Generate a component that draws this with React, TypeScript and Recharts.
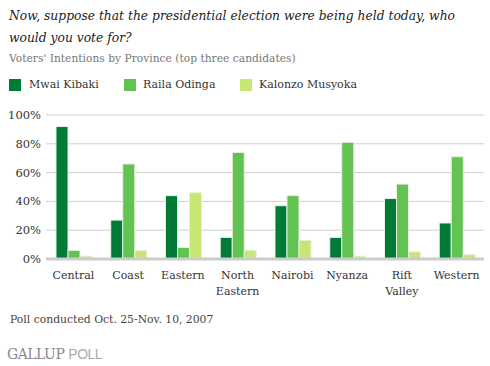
import { BarChart, Bar, XAxis, YAxis, CartesianGrid } from 'recharts';

const provinces = ['Central', 'Coast', 'Eastern', 'North Eastern', 'Nairobi', 'Nyanza', 'Rift Valley', 'Western'];
const kibaki = [92, 27, 44, 15, 37, 15, 42, 25];
const odinga = [6, 66, 8, 74, 44, 81, 52, 71];
const musyoka = [2, 6, 46, 6, 13, 2, 5, 3];
const yTicks = [0, 20, 40, 60, 80, 100];

const series = [
  { key: 'kibaki', name: 'Mwai Kibaki', color: '#007a37', x: 9, textX: 29 },
  { key: 'odinga', name: 'Raila Odinga', color: '#62c252', x: 124, textX: 143 },
  { key: 'musyoka', name: 'Kalonzo Musyoka', color: '#c7e673', x: 240, textX: 259 },
];

const chartData = provinces.map((p, i) => ({
  province: p,
  kibaki: kibaki[i],
  odinga: odinga[i],
  musyoka: musyoka[i],
}));

const serif = '"DejaVu Serif", Georgia, serif';

// x tick: split two-word names onto two lines
const ProvinceTick = (props: any) => {
  const { x, y, payload } = props;
  const words: string[] = String(payload.value).split(' ');
  return (
    <text x={x} y={y} textAnchor="middle" fill="#333" fontSize={11} fontFamily={serif}>
      {words.map((w, i) => (
        <tspan key={i} x={x} dy={i === 0 ? 12 : 16}>
          {w}
        </tspan>
      ))}
    </text>
  );
};

export default function App() {
  return (
    <div
      style={{
        position: 'absolute',
        left: 0,
        top: 0,
        width: 490,
        height: 366,
        background: '#fff',
        fontFamily: serif,
        overflow: 'hidden',
      }}
    >
      <div
        style={{
          position: 'absolute',
          left: 9,
          top: 5,
          fontSize: 12.3,
          fontStyle: 'italic',
          lineHeight: '22px',
          color: '#222',
          whiteSpace: 'nowrap',
        }}
      >
        Now, suppose that the presidential election were being held today, who
        <br />
        would you vote for?
      </div>
      <div style={{ position: 'absolute', left: 9, top: 52, fontSize: 10.7, color: '#777', whiteSpace: 'nowrap' }}>
        Voters' Intentions by Province (top three candidates)
      </div>
      {series.map((s) => (
        <div key={s.key}>
          <div
            style={{
              position: 'absolute',
              left: s.x,
              top: 79,
              width: 12,
              height: 12,
              background: s.color,
            }}
          />
          <div
            style={{ position: 'absolute', left: s.textX, top: 78, fontSize: 11, color: '#333', whiteSpace: 'nowrap' }}
          >
            {s.name}
          </div>
        </div>
      ))}

      <div style={{ position: 'absolute', left: 0, top: 0 }}>
        <BarChart
          width={490}
          height={300}
          data={chartData}
          margin={{ top: 115, right: 6, bottom: 0, left: 0 }}
          barGap={0}
          barCategoryGap={10}
        >
          <CartesianGrid vertical={false} stroke="#d0d0d0" strokeWidth={1} />
          <XAxis
            dataKey="province"
            height={41}
            tickLine={false}
            axisLine={{ stroke: '#cccccc', strokeWidth: 3 }}
            tick={<ProvinceTick />}
            interval={0}
          />
          <YAxis
            width={46}
            domain={[0, 100]}
            ticks={yTicks}
            tickFormatter={(v: number) => `${v}%`}
            tickLine={false}
            axisLine={false}
            tickSize={5}
            tickMargin={0}
            tick={{ fill: '#333', fontSize: 11.5, fontFamily: serif }}
          />
          {series.map((s) => (
            <Bar
              key={s.key}
              dataKey={s.key}
              name={s.name}
              fill={s.color}
              stroke="#e6f2dc"
              strokeWidth={1}
              isAnimationActive={false}
            />
          ))}
        </BarChart>
      </div>

      <div style={{ position: 'absolute', left: 10, top: 313, fontSize: 10.8, color: '#444', whiteSpace: 'nowrap' }}>
        Poll conducted Oct. 25-Nov. 10, 2007
      </div>
      <div
        style={{
          position: 'absolute',
          left: 7,
          top: 346,
          fontSize: 14,
          color: '#888',
          fontFamily: serif,
          letterSpacing: -0.5,
          whiteSpace: 'nowrap',
        }}
      >
        GALLUP <span style={{ fontFamily: '"Liberation Sans", sans-serif', color: '#aaa' }}>POLL</span>
      </div>
    </div>
  );
}
